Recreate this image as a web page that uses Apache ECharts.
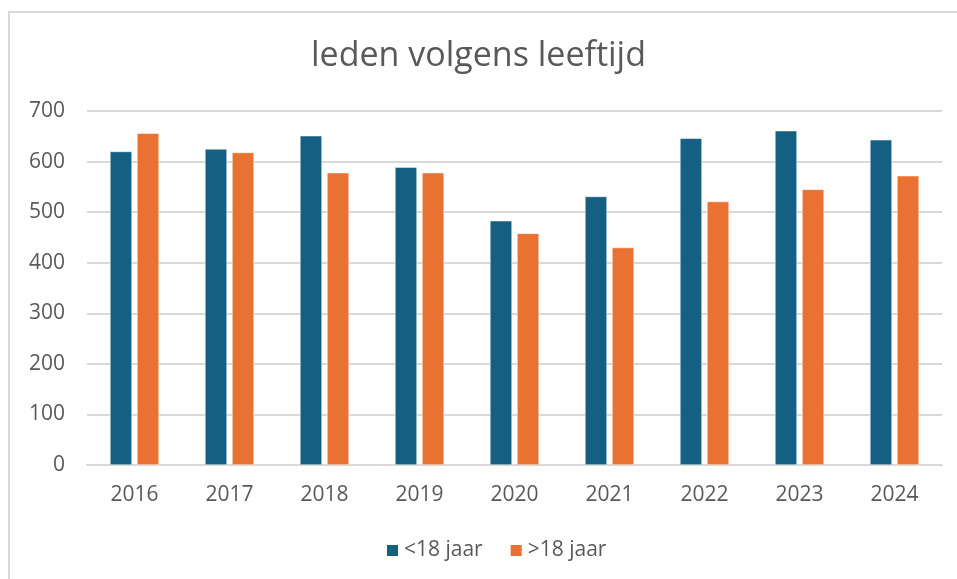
<!DOCTYPE html>
<html>
<head>
<meta charset="utf-8">
<script src="https://cdn.jsdelivr.net/npm/echarts@6/dist/echarts.min.js"></script>
<style>
  html, body { margin: 0; padding: 0; background: #fff; }
  #frame {
    position: absolute; left: 8px; top: 11px; width: 960px; height: 580px;
    border-left: 2px solid #d9d9d9; border-top: 2px solid #d9d9d9;
  }
  #chart { width: 957px; height: 579px; position: absolute; left: 0; top: 0; }
</style>
</head>
<body>
<div id="frame"></div>
<div id="chart"></div>
<script>
// jaren en ledenaantallen
const years = ['2016', '2017', '2018', '2019', '2020', '2021', '2022', '2023', '2024'];
const under18 = [620, 625, 651, 589, 483, 531, 646, 661, 643];
const over18 = [656, 618, 578, 578, 458, 430, 521, 545, 572];

const textColor = '#595959';
const font = 'Open Sans, Liberation Sans, sans-serif';

const chart = echarts.init(document.getElementById('chart'));
const option = {
  animation: false,
  title: {
    text: 'leden volgens leeftijd',
    left: 'center',
    top: 34,
    textStyle: { fontSize: 34, fontWeight: 'normal', color: textColor, fontFamily: font }
  },
  legend: {
    bottom: 13,
    left: 380,
    itemWidth: 13,
    itemHeight: 13,
    itemGap: 26,
    icon: 'rect',
    textStyle: { fontSize: 21, color: textColor, fontFamily: font },
    data: ['<18 jaar', '>18 jaar']
  },
  grid: { left: 87, right: 15, top: 111, bottom: 114 },
  xAxis: {
    type: 'category',
    data: years,
    axisTick: { show: false },
    axisLine: { lineStyle: { color: '#d9d9d9', width: 2 } },
    axisLabel: { fontSize: 21, color: textColor, fontFamily: font, margin: 20 }
  },
  yAxis: {
    type: 'value',
    min: 0,
    max: 700,
    interval: 100,
    axisLabel: { fontSize: 21, color: textColor, fontFamily: font, margin: 22 },
    splitLine: { lineStyle: { color: '#d9d9d9', width: 2 } }
  },
  series: [
    {
      name: '<18 jaar',
      type: 'bar',
      data: under18,
      barWidth: 22,
      barGap: '23%',
      itemStyle: { color: '#156082', borderColor: '#ffffff', borderWidth: 0.5 }
    },
    {
      name: '>18 jaar',
      type: 'bar',
      data: over18,
      barWidth: 22,
      itemStyle: { color: '#E97132', borderColor: '#ffffff', borderWidth: 0.5 }
    }
  ]
};
chart.setOption(option);
</script>
</body>
</html>
